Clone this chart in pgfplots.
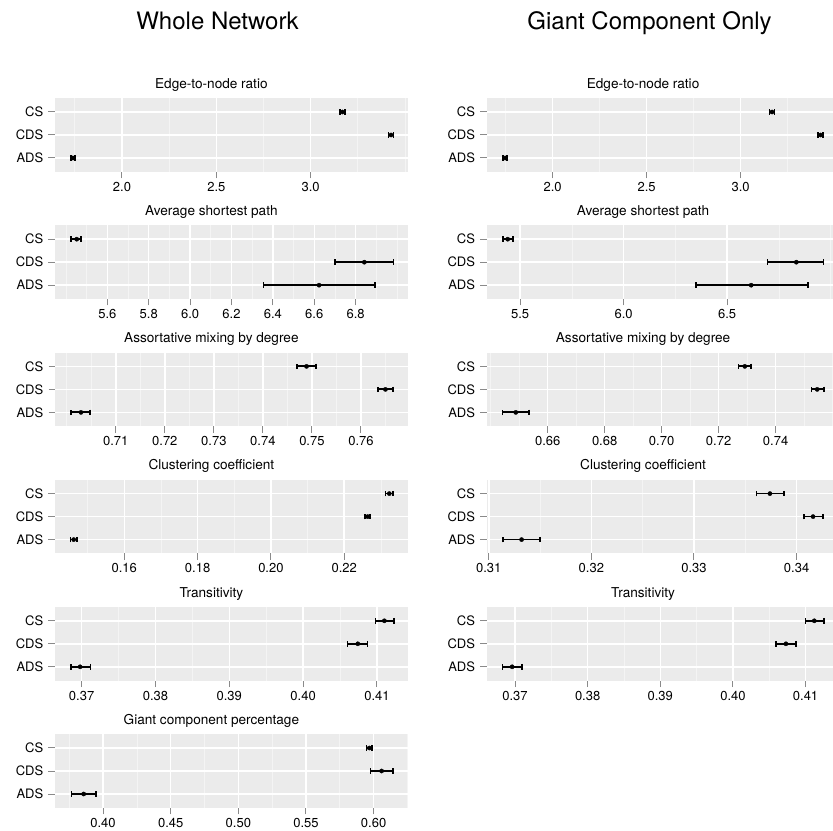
\documentclass[border=0pt]{standalone}
\usepackage{fontspec}
\setmainfont{TeX Gyre Heros}
\usepackage{pgfplots}
\pgfplotsset{compat=1.18}
\definecolor{ggbg}{HTML}{EBEBEB}
\definecolor{ggminor}{HTML}{F4F4F4}
\definecolor{ggtick}{HTML}{8A8A8A}
\pgfplotsset{
  gg/.style={
    width=353bp, height=73.6bp, scale only axis, anchor=north west,
    ymin=-0.6, ymax=2.6, ytick={0,1,2}, yticklabels={ADS,CDS,CS},
    axis background/.style={fill=ggbg},
    axis line style={draw=none},
    tick pos=left, tick align=outside,
    major tick length=6.5bp, minor tick length=0bp,
    major tick style={ggtick, line width=1bp},
    grid=both,
    major grid style={white, line width=1.5bp},
    minor grid style={ggminor, line width=0.7bp},
    yticklabel style={font=\fontsize{13bp}{15bp}\selectfont, inner sep=0pt, anchor=east, xshift=-5bp},
    xticklabel style={font=\fontsize{13bp}{15bp}\selectfont, inner sep=0pt, anchor=north, yshift=-3.5bp},
    title style={at={(0.443,1)}, anchor=base, yshift=4bp, inner sep=0pt, font=\fontsize{13.6bp}{16bp}\selectfont},
    clip=false,
  },
  ggp/.style={only marks, mark=*, mark size=2.1bp, black,
    error bars/.cd, x dir=both, x explicit,
    error bar style={line width=1.8bp, black},
    error mark options={rotate=90, mark size=2.8bp, line width=1.6bp, black}},
}
\begin{document}
\begin{tikzpicture}
\useasboundingbox (0,0) rectangle (833bp,831bp);
\node[font=\fontsize{24bp}{28bp}\selectfont, anchor=base] at (217.5bp,801.7bp) {Whole Network};
\node[font=\fontsize{24bp}{28bp}\selectfont, anchor=base] at (649.5bp,801.7bp) {Giant Component Only};
% ---------- Left column ----------
\begin{axis}[gg, at={(55bp,732.8bp)}, title={Edge-to-node ratio},
  xmin=1.645, xmax=3.516, xtick={2.0,2.5,3.0}, xticklabels={2.0,2.5,3.0},
  minor xtick={1.75,2.25,2.75,3.25,3.5}]
\addplot[ggp] table[x=v, y=c, x error plus expr=\thisrow{hi}-\thisrow{v}, x error minus expr=\thisrow{v}-\thisrow{lo}] {
c v lo hi
2 3.168 3.155 3.181
1 3.426 3.412 3.440
0 1.740 1.729 1.751
};
\end{axis}
\begin{axis}[gg, at={(55bp,605.6bp)}, title={Average shortest path},
  xmin=5.347, xmax=7.053, xtick={5.6,5.8,6.0,6.2,6.4,6.6,6.8}, xticklabels={5.6,5.8,6.0,6.2,6.4,6.6,6.8},
  minor xtick={5.4,5.5,5.7,5.9,6.1,6.3,6.5,6.7,6.9,7.0}]
\addplot[ggp] table[x=v, y=c, x error plus expr=\thisrow{hi}-\thisrow{v}, x error minus expr=\thisrow{v}-\thisrow{lo}] {
c v lo hi
2 5.452 5.425 5.473
1 6.842 6.700 6.983
0 6.623 6.355 6.893
};
\end{axis}
\begin{axis}[gg, at={(55bp,478.4bp)}, title={Assortative mixing by degree},
  xmin=0.6976, xmax=0.7696, xtick={0.71,0.72,0.73,0.74,0.75,0.76}, xticklabels={0.71,0.72,0.73,0.74,0.75,0.76},
  minor xtick={0.700,0.705,0.715,0.725,0.735,0.745,0.755,0.765}]
\addplot[ggp] table[x=v, y=c, x error plus expr=\thisrow{hi}-\thisrow{v}, x error minus expr=\thisrow{v}-\thisrow{lo}] {
c v lo hi
2 0.7489 0.7470 0.7508
1 0.7650 0.7635 0.7665
0 0.7029 0.7009 0.7048
};
\end{axis}
\begin{axis}[gg, at={(55bp,351.2bp)}, title={Clustering coefficient},
  xmin=0.1411, xmax=0.2374, xtick={0.16,0.18,0.20,0.22}, xticklabels={0.16,0.18,0.20,0.22},
  minor xtick={0.15,0.17,0.19,0.21,0.23}]
\addplot[ggp] table[x=v, y=c, x error plus expr=\thisrow{hi}-\thisrow{v}, x error minus expr=\thisrow{v}-\thisrow{lo}] {
c v lo hi
2 0.2323 0.2313 0.2333
1 0.2264 0.2257 0.2271
0 0.1462 0.1453 0.1471
};
\end{axis}
\begin{axis}[gg, at={(55bp,224.0bp)}, title={Transitivity},
  xmin=0.3664, xmax=0.4142, xtick={0.37,0.38,0.39,0.40,0.41}, xticklabels={0.37,0.38,0.39,0.40,0.41},
  minor xtick={0.375,0.385,0.395,0.405}]
\addplot[ggp] table[x=v, y=c, x error plus expr=\thisrow{hi}-\thisrow{v}, x error minus expr=\thisrow{v}-\thisrow{lo}] {
c v lo hi
2 0.4110 0.4098 0.4123
1 0.4074 0.4060 0.4087
0 0.3698 0.3686 0.3712
};
\end{axis}
\begin{axis}[gg, at={(55bp,96.8bp)}, title={Giant component percentage},
  xmin=0.3645, xmax=0.6254, xtick={0.40,0.45,0.50,0.55,0.60}, xticklabels={0.40,0.45,0.50,0.55,0.60},
  minor xtick={0.375,0.425,0.475,0.525,0.575,0.625}]
\addplot[ggp] table[x=v, y=c, x error plus expr=\thisrow{hi}-\thisrow{v}, x error minus expr=\thisrow{v}-\thisrow{lo}] {
c v lo hi
2 0.5968 0.5948 0.5990
1 0.6059 0.5976 0.6145
0 0.3857 0.3766 0.3948
};
\end{axis}
% ---------- Right column ----------
\begin{axis}[gg, at={(486.7bp,732.8bp)}, title={Edge-to-node ratio},
  xmin=1.649, xmax=3.527, xtick={2.0,2.5,3.0}, xticklabels={2.0,2.5,3.0},
  minor xtick={1.75,2.25,2.75,3.25,3.5}]
\addplot[ggp] table[x=v, y=c, x error plus expr=\thisrow{hi}-\thisrow{v}, x error minus expr=\thisrow{v}-\thisrow{lo}] {
c v lo hi
2 3.167 3.154 3.180
1 3.425 3.411 3.439
0 1.747 1.736 1.758
};
\end{axis}
\begin{axis}[gg, at={(486.7bp,605.6bp)}, title={Average shortest path},
  xmin=5.3385, xmax=7.0435, xtick={5.5,6.0,6.5}, xticklabels={5.5,6.0,6.5},
  minor xtick={5.75,6.25,6.75,7.0}]
\addplot[ggp] table[x=v, y=c, x error plus expr=\thisrow{hi}-\thisrow{v}, x error minus expr=\thisrow{v}-\thisrow{lo}] {
c v lo hi
2 5.440 5.416 5.466
1 6.834 6.695 6.966
0 6.616 6.350 6.889
};
\end{axis}
\begin{axis}[gg, at={(486.7bp,478.4bp)}, title={Assortative mixing by degree},
  xmin=0.6386, xmax=0.7625, xtick={0.66,0.68,0.70,0.72,0.74}, xticklabels={0.66,0.68,0.70,0.72,0.74},
  minor xtick={0.64,0.65,0.67,0.69,0.71,0.73,0.75,0.76}]
\addplot[ggp] table[x=v, y=c, x error plus expr=\thisrow{hi}-\thisrow{v}, x error minus expr=\thisrow{v}-\thisrow{lo}] {
c v lo hi
2 0.7292 0.7270 0.7314
1 0.7546 0.7526 0.7569
0 0.6488 0.6442 0.6535
};
\end{axis}
\begin{axis}[gg, at={(486.7bp,351.2bp)}, title={Clustering coefficient},
  xmin=0.3098, xmax=0.3442, xtick={0.31,0.32,0.33,0.34}, xticklabels={0.31,0.32,0.33,0.34},
  minor xtick={0.315,0.325,0.335}]
\addplot[ggp] table[x=v, y=c, x error plus expr=\thisrow{hi}-\thisrow{v}, x error minus expr=\thisrow{v}-\thisrow{lo}] {
c v lo hi
2 0.3374 0.3361 0.3388
1 0.3416 0.3407 0.3426
0 0.3132 0.3114 0.3150
};
\end{axis}
\begin{axis}[gg, at={(486.7bp,224.0bp)}, title={Transitivity},
  xmin=0.3661, xmax=0.4147, xtick={0.37,0.38,0.39,0.40,0.41}, xticklabels={0.37,0.38,0.39,0.40,0.41},
  minor xtick={0.375,0.385,0.395,0.405}]
\addplot[ggp] table[x=v, y=c, x error plus expr=\thisrow{hi}-\thisrow{v}, x error minus expr=\thisrow{v}-\thisrow{lo}] {
c v lo hi
2 0.4112 0.4100 0.4125
1 0.4073 0.4059 0.4087
0 0.3696 0.3683 0.3710
};
\end{axis}
\end{tikzpicture}
\end{document}
